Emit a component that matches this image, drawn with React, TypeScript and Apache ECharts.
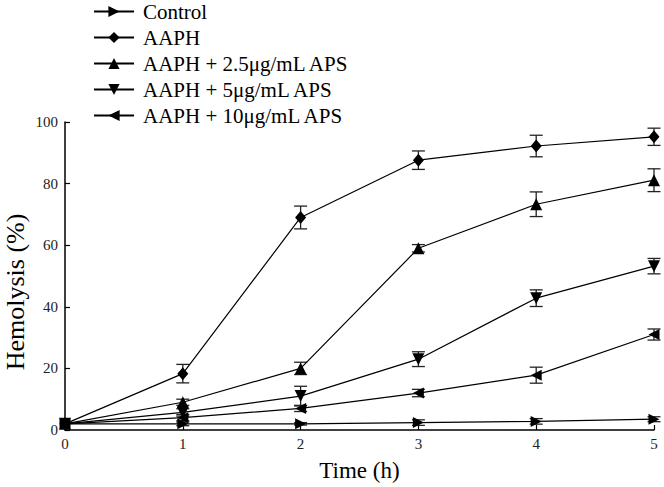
import React, { useEffect, useRef } from "react";
import * as echarts from "echarts";

const times = [0, 1, 2, 3, 4, 5];
const xTicks = ["0", "1", "2", "3", "4", "5"];
const yTitle = "Hemolysis (%)";
const xTitle = "Time (h)";
const seriesNames = [
  "Control",
  "AAPH",
  "AAPH + 2.5μg/mL APS",
  "AAPH + 5μg/mL APS",
  "AAPH + 10μg/mL APS",
];
const controlMean = [2, 2, 2, 2.4, 2.8, 3.5];
const controlErr = [0, 0.6, 0.4, 0.9, 0.9, 0.8];
const aaphMean = [2, 18.3, 69, 87.6, 92.2, 95.2];
const aaphErr = [0, 3, 3.7, 3, 3.5, 2.8];
const aps25Mean = [2, 9, 20, 59, 73.3, 81.1];
const aps25Err = [0, 1, 2, 1.2, 4, 3.7];
const aps5Mean = [2, 5.7, 11, 23, 42.8, 53.2];
const aps5Err = [0, 1.2, 3.2, 2.4, 2.7, 2.5];
const aps10Mean = [2, 4, 7, 12, 17.8, 31];
const aps10Err = [0, 1, 1, 1.2, 2.6, 1.8];

const means = [controlMean, aaphMean, aps25Mean, aps5Mean, aps10Mean];
const errs = [controlErr, aaphErr, aps25Err, aps5Err, aps10Err];
const symbols = [
  "path://M0,0 L10,5 L0,10 Z",
  "diamond",
  "triangle",
  "path://M0,0 L10,0 L5,10 Z",
  "path://M10,0 L10,10 L0,5 Z",
];
const symbolSizes: any[] = [11, [11, 13], 12, 12, 11];

const FONT = "'Liberation Serif', 'Times New Roman', serif";

export default function App() {
  const ref = useRef<HTMLDivElement>(null);
  useEffect(() => {
    document.body.style.margin = "0";
    const chart = echarts.init(ref.current!, null, { renderer: "svg" });
    const lineSeries = seriesNames.map((name, k) => ({
      type: "line",
      name,
      data: times.map((t, i) => [t, means[k][i]]),
      symbol: symbols[k],
      symbolSize: symbolSizes[k],
      showAllSymbol: true,
      lineStyle: { color: "#000", width: 1.2 },
      itemStyle: { color: "#000" },
      z: 3,
    }));
    const errSeries = seriesNames.map((name, k) => ({
      type: "custom",
      name: name + " err",
      silent: true,
      z: 2,
      data: times.map((t, i) => [t, means[k][i], errs[k][i]]),
      encode: { x: 0, y: 1 },
      renderItem: (params: any, api: any) => {
        const x = api.value(0);
        const m = api.value(1);
        const e = api.value(2);
        if (!e) return { type: "group", children: [] };
        const top = api.coord([x, m + e]);
        const bot = api.coord([x, m - e]);
        const hw = 6.5;
        const st = { stroke: "#222", lineWidth: 1.3 };
        return {
          type: "group",
          children: [
            { type: "line", shape: { x1: top[0], y1: top[1], x2: bot[0], y2: bot[1] }, style: st },
            { type: "line", shape: { x1: top[0] - hw, y1: top[1], x2: top[0] + hw, y2: top[1] }, style: st },
            { type: "line", shape: { x1: bot[0] - hw, y1: bot[1], x2: bot[0] + hw, y2: bot[1] }, style: st },
          ],
        };
      },
    }));
    chart.setOption({
      animation: false,
      backgroundColor: "#fff",
      textStyle: { fontFamily: FONT },
      grid: { left: 65, right: 10, top: 122, bottom: 57 },
      graphic: [
        {
          type: "text",
          x: 15,
          y: 292,
          rotation: Math.PI / 2,
          style: {
            text: yTitle,
            fontFamily: FONT,
            fontSize: 26,
            fill: "#000",
            align: "center",
            verticalAlign: "middle",
          },
        },
      ],
      legend: {
        data: seriesNames,
        orient: "vertical",
        left: 93,
        top: 1,
        padding: 0,
        itemWidth: 40,
        itemHeight: 14,
        itemGap: 5,
        textStyle: { fontFamily: FONT, fontSize: 21, color: "#000", padding: [0, 0, 0, 4] },
      },
      xAxis: {
        type: "value",
        min: 0,
        max: 5,
        interval: 1,
        name: xTitle,
        nameLocation: "middle",
        nameGap: 29,
        nameTextStyle: { fontFamily: FONT, fontSize: 23, color: "#000" },
        axisLine: { show: true, onZero: false, lineStyle: { color: "#000", width: 1.5 } },
        axisTick: { show: true, inside: true, length: 5, lineStyle: { color: "#000", width: 1.2 } },
        axisLabel: {
          fontFamily: FONT,
          fontSize: 15,
          color: "#222",
          margin: 6,
          formatter: (v: number) => xTicks[Math.round(v)] ?? "",
        },
        splitLine: { show: false },
      },
      yAxis: {
        type: "value",
        min: 0,
        max: 100,
        interval: 20,
        axisLine: { show: true, lineStyle: { color: "#000", width: 1.5 } },
        axisTick: { show: true, inside: true, length: 5, lineStyle: { color: "#000", width: 1.2 } },
        axisLabel: { fontFamily: FONT, fontSize: 15, color: "#222", margin: 7 },
        splitLine: { show: false },
      },
      series: [...errSeries, ...lineSeries],
    });
    return () => chart.dispose();
  }, []);
  return (
    <div
      ref={ref}
      style={{ position: "fixed", left: 0, top: 0, width: 664, height: 487, background: "#fff" }}
    />
  );
}
